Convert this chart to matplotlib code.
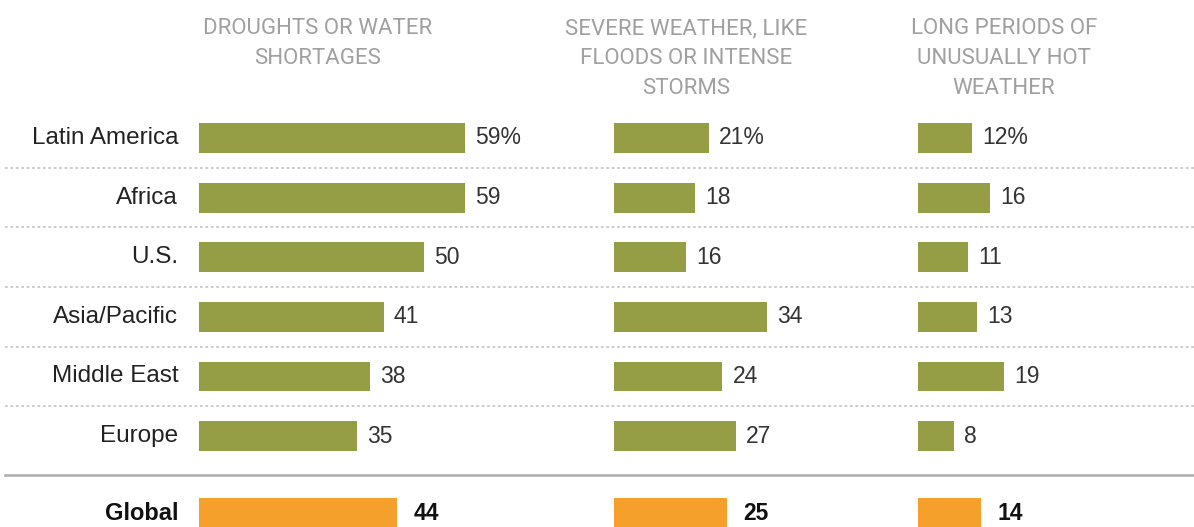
import matplotlib
matplotlib.use("Agg")
import matplotlib.pyplot as plt

regions = ["Latin America", "Africa", "U.S.", "Asia/Pacific", "Middle East", "Europe"]
global_label = "Global"
headers = ["DROUGHTS OR WATER\nSHORTAGES",
           "SEVERE WEATHER, LIKE\nFLOODS OR INTENSE\nSTORMS",
           "LONG PERIODS OF\nUNUSUALLY HOT\nWEATHER"]
droughts = [59, 59, 50, 41, 38, 35]
severe = [21, 18, 16, 34, 24, 27]
heat = [12, 16, 11, 13, 19, 8]
global_vals = [44, 25, 14]

GREEN = "#959e45"
ORANGE = "#f4a02a"
W, H = 1194, 527
fig = plt.figure(figsize=(W / 100, H / 100), dpi=100)
fig.patch.set_facecolor("white")

row_px0, row_step = 138, 59.6
ylim = ((H - row_px0) / row_step, -row_px0 / row_step)
ypos = list(range(len(regions)))
y_global = (513 - row_px0) / row_step
px_per_unit = 4.5

# background axes for separators
bg = fig.add_axes([0, 0, 1, 1])
bg.set_xlim(0, 1)
bg.set_ylim(*ylim)
bg.axis("off")
for i in range(len(regions) - 1):
    bg.axhline(i + 0.5, xmin=5 / W, xmax=1, color="#c8c8c8", lw=1.3, ls=(0, (1.5, 1.5)))
bg.axhline((475 - row_px0) / row_step, xmin=5 / W, xmax=1, color="#aaaaaa", lw=1.8)

panels = [(199, 400, droughts), (614, 286, severe), (918, 276, heat)]
header_cx = [318, 686, 1004]
font = "Liberation Sans"

for k, (left, width, vals) in enumerate(panels):
    ax = fig.add_axes([left / W, 0, width / W, 1])
    ax.set_xlim(0, width / px_per_unit)
    ax.set_ylim(*ylim)
    ax.axis("off")
    ax.patch.set_alpha(0)
    ax.barh(ypos, vals, height=0.5, color=GREEN, edgecolor="none")
    ax.barh([y_global], [global_vals[k]], height=0.5, color=ORANGE, edgecolor="none")
    for i, v in enumerate(vals):
        lab = f"{v}%" if i == 0 else f"{v}"
        ax.annotate(lab, xy=(v, i), xytext=(7.5, 0), textcoords="offset points",
                    ha="left", va="center", fontsize=16.5, color="#333333", family=font)
    ax.annotate(f"{global_vals[k]}", xy=(global_vals[k], y_global), xytext=(12, 0),
                textcoords="offset points", ha="left", va="center", fontsize=16.5,
                color="#111111", fontweight="bold", family=font)
    if k == 0:
        for i, r in enumerate(regions):
            ax.annotate(r, xy=(0, i), xytext=(-15, 0), textcoords="offset points",
                        ha="right", va="center", fontsize=17.5, color="#222222", family=font)
        ax.annotate(global_label, xy=(0, y_global), xytext=(-15, 0), textcoords="offset points",
                    ha="right", va="center", fontsize=17, color="#111111",
                    fontweight="bold", family=font)
    fig.text(header_cx[k] / W, 1 - 18 / H, headers[k], ha="center", va="top",
             fontsize=16, color="#a0a0a0", family="Roboto", linespacing=1.55)

fig.savefig("out.png", dpi=100, facecolor="white")
